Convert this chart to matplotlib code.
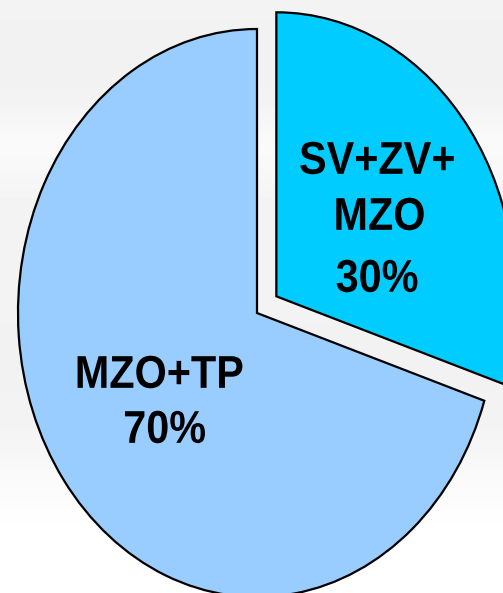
import matplotlib
matplotlib.use("Agg")
import matplotlib.pyplot as plt
import numpy as np
from matplotlib.textpath import TextPath
from matplotlib.font_manager import FontProperties
from matplotlib.patches import PathPatch
from matplotlib.transforms import Affine2D, IdentityTransform

# data
categories = ["SV+ZV+\nMZO", "MZO+TP"]
values = [30, 70]
pct_labels = ["30%", "70%"]
colors = ["#00CCFF", "#99CCFF"]
explode = [0.10, 0.0]

W, H = 503, 593
fig = plt.figure(figsize=(W / 100, H / 100), dpi=100)

# background
bg = fig.add_axes([0, 0, 1, 1], zorder=0)
bands = np.array([0.95, 0.945, 0.95, 0.99, 0.955, 0.95, 0.955, 0.95, 0.945, 0.95, 0.96, 0.985, 1.0, 1.0])
bg.imshow(bands.reshape(-1, 1), cmap="gray", vmin=0, vmax=1, aspect="auto",
          extent=[0, 1, 0, 1], interpolation="bicubic")
bg.set_axis_off()

ax = fig.add_axes([0, 0, 1, 1], zorder=1)
ax.patch.set_alpha(0)
wedges, _ = ax.pie(values, colors=colors, explode=explode, startangle=90,
                   counterclock=False,
                   wedgeprops=dict(edgecolor="black", linewidth=1.6))
ax.set_aspect("auto")
cx, cy, rx, ry = 257, 313, 239, 284
ax.set_xlim(-cx / rx, (W - cx) / rx)
ax.set_ylim(-(H - cy) / ry, cy / ry)
ax.set_axis_off()

fp = FontProperties(family="Liberation Sans", weight="bold")
SIZE = 46.0   # px
SX = 0.90     # horizontal condensing


def label(txt, x, y):
    """Draw txt centred at pixel (x, y) measured from top-left."""
    tp = TextPath((0, 0), txt, size=SIZE, prop=fp)
    ext = tp.get_extents()
    mx = (ext.x0 + ext.x1) / 2
    my = (ext.y0 + ext.y1) / 2
    tr = Affine2D().translate(-mx, -my).scale(SX, 1.0).translate(x, H - y)
    patch = PathPatch(tp, facecolor="black", edgecolor="none",
                      transform=tr + IdentityTransform(), zorder=5)
    fig.add_artist(patch)


lines_small = categories[0].split("\n") + [pct_labels[0]]
for txt, (x, y) in zip(lines_small, [(377, 158), (380, 214), (377, 276)]):
    label(txt, x, y)

lines_big = categories[1].split("\n") + [pct_labels[1]]
for txt, (x, y) in zip(lines_big, [(160, 372), (165, 427)]):
    label(txt, x, y)

fig.savefig("out.png", dpi=100)
